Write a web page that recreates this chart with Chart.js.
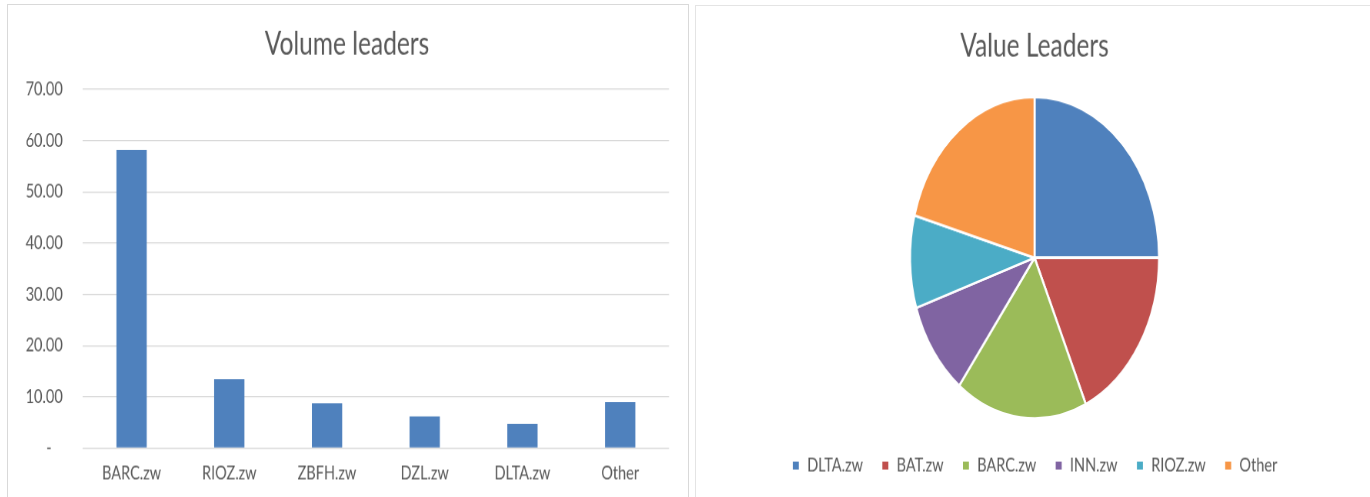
<!DOCTYPE html>
<html>
<head>
<meta charset="utf-8">
<title>Volume and value leaders</title>
<script src="https://cdn.jsdelivr.net/npm/chart.js"></script>
<style>
  body { margin: 0; background: #fff; overflow: hidden; }
  .panel { position: absolute; border: 1px solid #d9d9d9; background: #fff; overflow: hidden; }
  #left { left: 7px; top: 4px; width: 680px; height: 520px; }
  #right { left: 695px; top: 5px; width: 677px; height: 520px; border-color: #e4e4e4; }
  /* the source picture is stretched vertically, so each chart is drawn flat and stretched */
  .stretch { position: absolute; left: 0; top: 0; width: 100%; height: 385px; transform: scaleY(1.289); transform-origin: 0 0; }
</style>
<script>
  var volumeLabels = ['BARC.zw', 'RIOZ.zw', 'ZBFH.zw', 'DZL.zw', 'DLTA.zw', 'Other'];
  var volumeValues = [58.2, 13.45, 8.77, 6.16, 4.74, 8.97];
  var volumeTicks = [0, 10, 20, 30, 40, 50, 60, 70];

  var valueLabels = ['DLTA.zw', 'BAT.zw', 'BARC.zw', 'INN.zw', 'RIOZ.zw', 'Other'];
  var valueShares = [25.0, 18.25, 17.1, 9.6, 9.3, 20.75];

  var pieColors = ['#4f81bd', '#c0504d', '#9bbb59', '#8064a2', '#4bacc6', '#f79646'];
  var textColor = '#595959';

  function tickText(v) {
    return v === 0 ? '-   ' : v.toFixed(2);
  }

  function drawCharts() {
    Chart.defaults.font.family = 'Lato, "Liberation Sans", sans-serif';
    Chart.defaults.color = textColor;

    new Chart(document.getElementById('volume'), {
      type: 'bar',
      data: {
        labels: volumeLabels,
        datasets: [{
          data: volumeValues,
          backgroundColor: '#4f81bd',
          barPercentage: 0.31,
          categoryPercentage: 1
        }]
      },
      options: {
        responsive: true,
        maintainAspectRatio: false,
        animation: false,
        devicePixelRatio: 1.3,
        layout: { padding: { left: 17, right: 19, top: 0, bottom: 3 } },
        plugins: {
          legend: { display: false },
          tooltip: { enabled: false },
          title: {
            display: true,
            text: 'Volume leaders',
            color: textColor,
            font: { size: 24.5, weight: 'normal' },
            padding: { top: 15.6, bottom: 20.4 }
          }
        },
        scales: {
          x: {
            grid: { display: false, drawTicks: false },
            border: { display: false },
            ticks: { font: { size: 14.5 }, color: textColor, padding: 10.6 }
          },
          y: {
            min: 0,
            max: 70,
            border: { display: false },
            grid: { color: '#d9d9d9', drawTicks: false },
            ticks: { font: { size: 14.5 }, color: textColor, padding: 20, callback: tickText },
            afterBuildTicks: function(s) {
              s.ticks = volumeTicks.map(function(v) { return { value: v }; });
            },
            afterFit: function(s) { s.width = 57.7; }
          }
        }
      }
    });

    new Chart(document.getElementById('value'), {
      type: 'pie',
      data: {
        labels: valueLabels,
        datasets: [{
          data: valueShares,
          backgroundColor: pieColors,
          borderColor: '#ffffff',
          borderWidth: 2,
          radius: 124.5
        }]
      },
      options: {
        responsive: true,
        maintainAspectRatio: false,
        animation: false,
        devicePixelRatio: 1.3,
        layout: { padding: { bottom: 11.6 } },
        plugins: {
          tooltip: { enabled: false },
          title: {
            display: true,
            text: 'Value Leaders',
            color: textColor,
            font: { size: 24.5, weight: 'normal' },
            padding: { top: 16.3, bottom: 14 }
          },
          legend: {
            position: 'bottom',
            labels: { boxWidth: 8, boxHeight: 8, padding: 18.4, color: textColor, font: { size: 14.5 } }
          }
        }
      }
    });
  }
</script>
</head>
<body onload="drawCharts()">
  <div class="panel" id="left"><div class="stretch"><canvas id="volume"></canvas></div></div>
  <div class="panel" id="right"><div class="stretch"><canvas id="value"></canvas></div></div>
</body>
</html>
